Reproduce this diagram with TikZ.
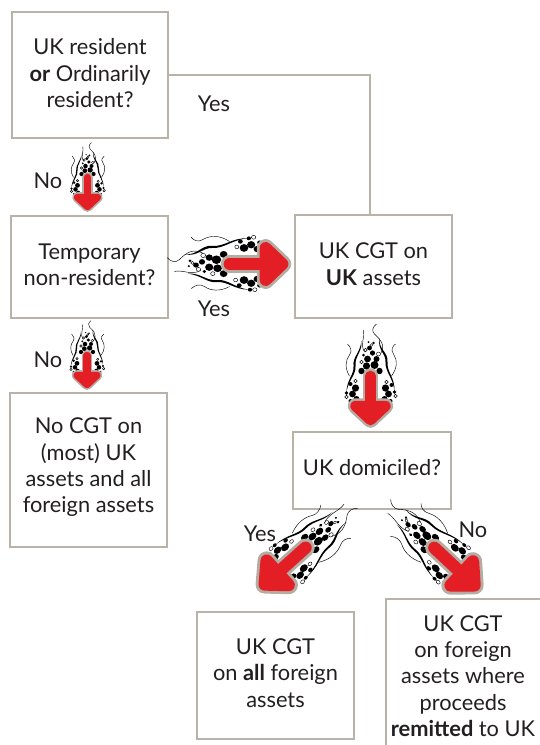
\documentclass[tikz,border=0pt]{standalone}
\usepackage{fontspec}
\setmainfont{Lato}
\definecolor{boxline}{HTML}{B9B2A8}
\definecolor{arrowgrey}{HTML}{B5ADA3}
\definecolor{arrowred}{HTML}{E31E24}
\definecolor{ink}{HTML}{231F20}
\newcommand{\tailgap}[1]{\rule[-#1pt]{0pt}{1pt}}
\tikzset{
  box/.style={draw=boxline,line width=1.3pt,fill=white,align=center,text=ink,inner sep=0pt,
    font=\fontsize{21.8}{26.3}\selectfont},
  plainbox/.style={box,draw=none,fill=none},
  lbl/.style={text=ink,inner sep=0pt,font=\fontsize{21.8}{26}\selectfont},
  link/.style={draw=boxline,line width=1.3pt},
}
\newcommand{\swashes}{%
  \fill[black] (24,-24) .. controls (10,-25) and (4,-16) .. (-6,-17) .. controls (-16,-18) and (-18,-8) .. (-30,-9)
     .. controls (-18,-6.5) and (-15,-15.5) .. (-6,-15) .. controls (4,-14.5) and (10,-23) .. (24,-24) -- cycle;
  \fill[black] (24,24) .. controls (12,22) and (6,14) .. (-2,15) .. controls (-12,16) and (-16,8) .. (-27,9)
     .. controls (-15,10.5) and (-11,18) .. (-2,17) .. controls (6,16) and (12,24) .. (24,24) -- cycle;
  \draw[black,line width=.45pt] (-14,-10) .. controls (-24,-16) and (-30,-8) .. (-34,-4) .. controls (-37,-1) and (-41,-2) .. (-44,-6);
  \draw[black,line width=.45pt] (8,-21) .. controls (0,-27) and (-8,-27) .. (-14,-23) .. controls (-18,-20) and (-22,-22) .. (-24,-25);
  \draw[black,line width=.45pt] (-16,6) .. controls (-24,11) and (-31,5) .. (-38,7);
  \draw[black,line width=.45pt] (8,21) .. controls (0,26) and (-8,25) .. (-13,21) .. controls (-17,18) and (-21,20) .. (-24,23);
}
\newcommand{\arrowmark}[6]{% x, y, angle, length scale, width scale, flourish width factor
  \begin{scope}[shift={(#1,#2)},rotate=#3,xscale=#4,yscale=#5]
    \begin{scope}[yscale=#6]
    \swashes
    \foreach \u/\v/\r in {-3/-4/4,-2/4/3.6,-9/-6/3,-9/3/3.4,-15/-2/2.6,-20/1/2.4,3/-9/3.2,3/9/3.2,-25/-3/1.3,-26/2/1,-13/7/1.5,
        20/-15/3.6,26/-18/3.4,31/-14/3,17/-21/2,24/-24/1.8,33/-20/2,20/15/3.6,26/18/3.4,31/14/3,16/20/2,25/24/1.8,33/20/2}
      \fill[black] (\u,\v) circle[radius=\r];
    \foreach \u/\v/\r in {-14/-8/2,-18/5/1.8,-6/9/1.8,-23/-1/1.4,28/-25/1.8,14/-16/1.7,36/-15/1.5,29/24/1.8,13/15/1.7,36/16/1.5}
      \filldraw[fill=white,draw=black,line width=.45pt] (\u,\v) circle[radius=\r];
    \end{scope}
    \foreach \c/\w in {arrowgrey/15.5,arrowred/10.5}{
      \draw[\c,line cap=round,line join=round,line width=\w*(#4+#5)/2] (8,0) -- (50,0);
      \filldraw[\c,line join=round,line width=\w*(#4+#5)/2] (38,-15) -- (52,0) -- (38,15) -- cycle;
    }
  \end{scope}}
\begin{document}
\begin{tikzpicture}[x=1pt,y=-1pt]
\useasboundingbox (0,0) rectangle (540,745);
\node[box,minimum width=156pt,minimum height=126pt] (resident) at (90,75) {UK resident\\\textbf{or} Ordinarily\\resident?\tailgap{4}};
\node[box,minimum width=157pt,minimum height=102pt] (temp) at (89.5,267) {Temporary\\non-resident?\tailgap{5}};
\node[box,minimum width=157pt,minimum height=103pt] (ukassets) at (373.5,266.5) {UK CGT on\\\textbf{UK} assets\tailgap{5}};
\node[box,minimum width=157pt,minimum height=154pt] (nocgt) at (88.5,470) {No CGT on\\(most) UK\\assets and all\\foreign assets\tailgap{9}};
\node[box,minimum width=158pt,minimum height=77pt] (domiciled) at (372,470.5) {UK domiciled?\tailgap{6}};
\node[box,minimum width=157pt,minimum height=127pt] (allforeign) at (275.5,675.5) {UK CGT\\on \textbf{all} foreign\\assets\tailgap{5}};
\node[plainbox] (remitted) at (463,676) {UK CGT\\on foreign\\assets where\\proceeds\\\textbf{remitted} to UK};
\coordinate (remitbl) at (386,745);
\coordinate (remittl) at (386,599);
\coordinate (remittr) at (540,599);
\draw[link] (remitbl) -- (remittl) -- (remittr);
\draw[link] (resident.east) -| ([xshift=-3.5pt]ukassets.north);
\arrowmark{87.5}{172}{-90}{.667}{.667}{1}
\arrowmark{87}{350}{-90}{.667}{.667}{1}
\arrowmark{220}{264}{0}{1.2}{1.07}{1}
\arrowmark{370.5}{368}{-90}{1}{1}{1}
\arrowmark{313}{541}{222}{1.25}{1.1}{.85}
\arrowmark{427}{541}{-43}{1.25}{1.1}{.85}
\node[lbl] (yes1) at (214,103.5) {Yes};
\node[lbl] (no1) at (48,180.5) {No};
\node[lbl] (yes2) at (214,308.5) {Yes};
\node[lbl] (no2) at (48,359.5) {No};
\node[lbl] (yes3) at (260,533.5) {Yes};
\node[lbl] (no3) at (473,529.5) {No};
\end{tikzpicture}
\end{document}
